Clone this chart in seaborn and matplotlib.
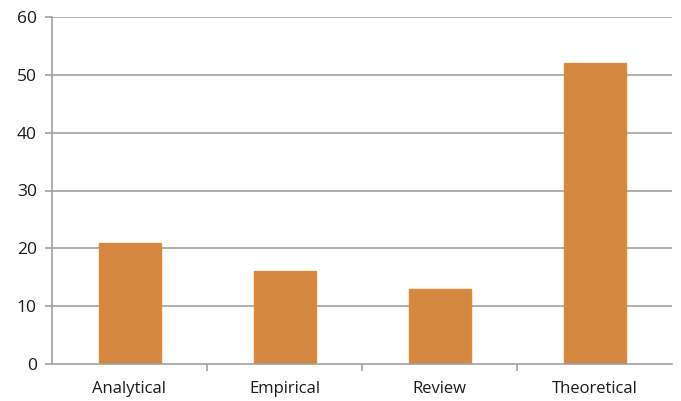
import matplotlib
matplotlib.use("Agg")
import matplotlib.pyplot as plt
import seaborn as sns
import pandas as pd

categories = ["Analytical", "Empirical", "Review", "Theoretical"]
values = [21, 16, 13, 52]
yticks = [0, 10, 20, 30, 40, 50, 60]

df = pd.DataFrame({"category": categories, "value": values})

sns.set_theme(style="white")
plt.rcParams["font.family"] = ["Open Sans", "DejaVu Sans"]

fig = plt.figure(figsize=(6.81, 4.01), dpi=100)
ax = fig.add_axes([52 / 681, 1 - 364 / 401, (672 - 52) / 681, (364 - 17) / 401])

grid_c = "#A0A0A0"
for y in yticks[1:]:
    ax.axhline(y, color=grid_c, lw=1.2, zorder=0)

sns.barplot(data=df, x="category", y="value", color="#D4883F", width=0.4,
            edgecolor="#E0893A", linewidth=1, saturation=1, ax=ax, zorder=2)

ax.set_ylim(0, 60)
ax.set_xlim(-0.5, 3.5)
ax.set_yticks(yticks)
ax.set_xlabel("")
ax.set_ylabel("")
for s in ["top", "right"]:
    ax.spines[s].set_visible(False)
for s in ["left", "bottom"]:
    ax.spines[s].set_color(grid_c)
    ax.spines[s].set_linewidth(1.2)

ax.tick_params(axis="y", length=5, width=1.2, color=grid_c, labelsize=12.5,
               labelcolor="#1a1a1a", pad=6, left=True)
ax.tick_params(axis="x", which="major", length=0, labelsize=12,
               labelcolor="#1a1a1a", pad=12)
ax.set_xticks([0.5, 1.5, 2.5], minor=True)
ax.tick_params(axis="x", which="minor", length=5, width=1.2, color=grid_c, bottom=True)

fig.savefig("out.png", dpi=100)
